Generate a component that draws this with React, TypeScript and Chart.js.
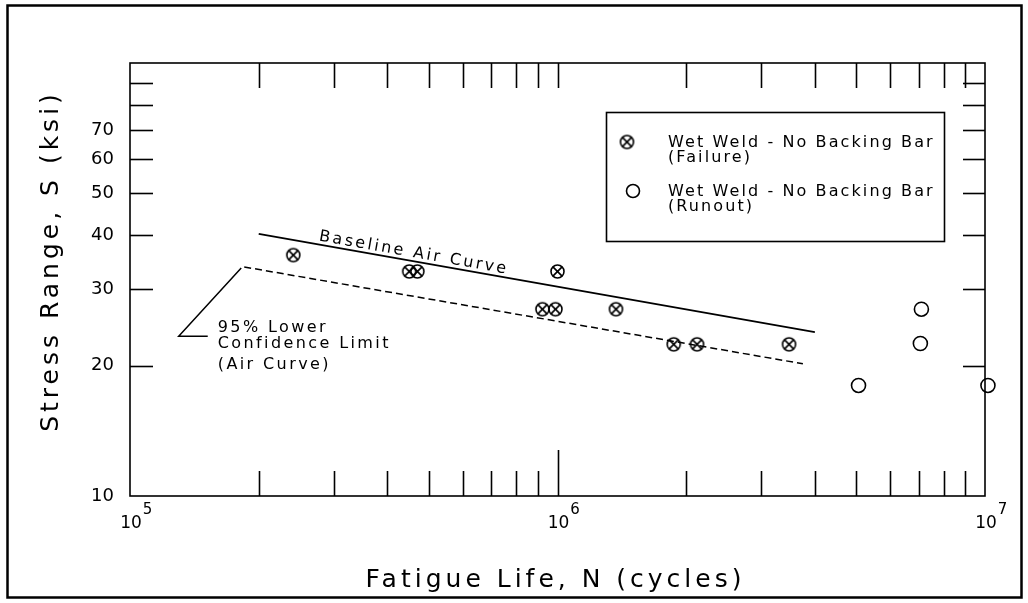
import React, { useEffect, useRef } from 'react';
import { Chart, registerables } from 'chart.js';

Chart.register(...registerables);

// ---- data ----
const failureN = [2.41e5, 4.5e5, 4.7e5, 1.0e6, 9.22e5, 9.89e5, 1.37e6, 1.87e6, 2.12e6, 3.48e6];
const failureS = [36, 33, 33, 33, 27, 27, 27, 22.4, 22.4, 22.4];
const runoutN = [5.06e6, 7.1e6, 7.06e6, 1.016e7];
const runoutS = [18, 27, 22.5, 18];
const baselineN = [2.0e5, 4.0e6];
const baselineS = [40.3, 23.9];
const lowerN = [1.85e5, 3.75e6];
const lowerS = [33.8, 20.2];

// ---- axes ----
const xTickValues = [
  1e5, 2e5, 3e5, 4e5, 5e5, 6e5, 7e5, 8e5, 9e5,
  1e6, 2e6, 3e6, 4e6, 5e6, 6e6, 7e6, 8e6, 9e6, 1e7,
];
const xLabelValues = [1e5, 1e6, 1e7];
const xLabelExponents = ['5', '6', '7'];
const yTickValues = [10, 20, 30, 40, 50, 60, 70, 80, 90, 100];
const yTickLabels = [10, 20, 30, 40, 50, 60, 70];

const xTitle = 'Fatigue Life, N (cycles)';
const yTitle = 'Stress Range, S (ksi)';
const failureLabel = ['Wet Weld - No Backing Bar', '(Failure)'];
const runoutLabel = ['Wet Weld - No Backing Bar', '(Runout)'];
const baselineLabel = 'Baseline Air Curve';
const lowerLabel = ['95% Lower', 'Confidence Limit', '(Air Curve)'];
const lowerLeaderElbow = { x: 1.3e5, y: 23.4 };
const lowerLeaderEnd = { x: 1.52e5, y: 23.4 };
const baselineLabelAt = 2.75e5;

const FONT = '"DejaVu Sans", "Liberation Sans", sans-serif';
const INK = '#000';

function makeCrossCircle(size: number, r: number, lw: number): HTMLCanvasElement {
  const c = document.createElement('canvas');
  c.width = size;
  c.height = size;
  const g = c.getContext('2d')!;
  const m = size / 2;
  g.strokeStyle = INK;
  g.lineWidth = lw;
  g.beginPath();
  g.arc(m, m, r, 0, Math.PI * 2);
  g.stroke();
  const d = r * Math.SQRT1_2;
  g.beginPath();
  g.moveTo(m - d, m - d);
  g.lineTo(m + d, m + d);
  g.moveTo(m + d, m - d);
  g.lineTo(m - d, m + d);
  g.stroke();
  return c;
}

function spacedText(
  ctx: CanvasRenderingContext2D,
  s: string,
  x: number,
  y: number,
  size: number,
  spacing: number,
  align: 'left' | 'center' = 'left'
) {
  ctx.save();
  ctx.font = `${size}px ${FONT}`;
  (ctx as any).letterSpacing = `${spacing}px`;
  ctx.fillStyle = INK;
  ctx.textBaseline = 'alphabetic';
  ctx.textAlign = 'left';
  let sx = x;
  if (align === 'center') {
    const w = ctx.measureText(s).width - spacing;
    sx = x - w / 2;
  }
  ctx.fillText(s, sx, y);
  ctx.restore();
}

function seg(ctx: CanvasRenderingContext2D, x1: number, y1: number, x2: number, y2: number) {
  ctx.beginPath();
  ctx.moveTo(x1, y1);
  ctx.lineTo(x2, y2);
  ctx.stroke();
}

export default function App() {
  const ref = useRef<HTMLCanvasElement | null>(null);

  useEffect(() => {
    document.body.style.margin = '0';
    const canvas = ref.current;
    if (!canvas) return;
    const crossImg = makeCrossCircle(17, 6.5, 1.6);

    const decorPlugin = {
      id: 'decor',
      beforeDraw(chart: any) {
        const ctx: CanvasRenderingContext2D = chart.ctx;
        ctx.save();
        ctx.fillStyle = '#fff';
        ctx.fillRect(0, 0, chart.width, chart.height);
        ctx.strokeStyle = INK;
        ctx.lineWidth = 2.5;
        ctx.strokeRect(7.5, 5.5, 1014, 592);
        ctx.restore();
      },
      afterDatasetsDraw(chart: any) {
        const ctx: CanvasRenderingContext2D = chart.ctx;
        const xs = chart.scales.x;
        const ys = chart.scales.y;
        const { left, right, top, bottom } = chart.chartArea;
        ctx.save();
        ctx.strokeStyle = INK;
        ctx.lineWidth = 1.6;
        ctx.strokeRect(left, top, right - left, bottom - top);

        // inward ticks, x (bottom and top)
        xs.ticks.forEach((t: any) => {
          const v = t.value;
          if (v <= xs.min || v >= xs.max) return;
          const px = Math.round(xs.getPixelForValue(v)) + 0.5;
          const lg = Math.log10(v);
          const major = Math.abs(lg - Math.round(lg)) < 1e-9;
          seg(ctx, px, bottom, px, bottom - (major ? 46 : 25));
          seg(ctx, px, top, px, top + 25);
        });
        // inward ticks, y (left and right)
        ys.ticks.forEach((t: any) => {
          const v = t.value;
          if (v <= ys.min || v >= ys.max) return;
          const py = Math.round(ys.getPixelForValue(v)) + 0.5;
          seg(ctx, left, py, left + 23, py);
          seg(ctx, right, py, right - 22, py);
        });

        // x labels 10^n
        xLabelValues.forEach((v, i) => {
          const px = xs.getPixelForValue(v);
          ctx.save();
          ctx.font = `17px ${FONT}`;
          ctx.fillStyle = INK;
          ctx.textAlign = 'center';
          ctx.fillText('10', px + 1, bottom + 32);
          const w = ctx.measureText('10').width;
          ctx.font = `15px ${FONT}`;
          ctx.textAlign = 'left';
          ctx.fillText(xLabelExponents[i], px + 1 + w / 2 + 1, bottom + 18);
          ctx.restore();
        });

        // axis titles
        spacedText(ctx, xTitle, (left + right) / 2 - 4, 587, 25, 4, 'center');
        ctx.save();
        ctx.translate(58, 263);
        ctx.rotate(-Math.PI / 2);
        spacedText(ctx, yTitle, 0, 0, 25, 4, 'center');
        ctx.restore();

        // baseline label along the line
        const bx1 = xs.getPixelForValue(baselineN[0]);
        const by1 = ys.getPixelForValue(baselineS[0]);
        const bx2 = xs.getPixelForValue(baselineN[1]);
        const by2 = ys.getPixelForValue(baselineS[1]);
        const ang = Math.atan2(by2 - by1, bx2 - bx1);
        const lx = xs.getPixelForValue(baselineLabelAt);
        const ly = by1 + ((lx - bx1) * (by2 - by1)) / (bx2 - bx1);
        ctx.save();
        ctx.translate(lx + 4 * Math.sin(ang), ly - 4 * Math.cos(ang));
        ctx.rotate(ang);
        spacedText(ctx, baselineLabel, 0, 0, 16, 2.5);
        ctx.restore();

        // leader for lower confidence limit
        const sx = xs.getPixelForValue(lowerN[0]);
        const sy = ys.getPixelForValue(lowerS[0]);
        const ex = xs.getPixelForValue(lowerLeaderElbow.x);
        const ey = ys.getPixelForValue(lowerLeaderElbow.y);
        const fx = xs.getPixelForValue(lowerLeaderEnd.x);
        ctx.lineWidth = 1.5;
        ctx.beginPath();
        ctx.moveTo(sx - 3, sy + 1);
        ctx.lineTo(ex, ey);
        ctx.lineTo(fx, ey);
        ctx.stroke();
        spacedText(ctx, lowerLabel[0], fx + 10, ey - 4, 16, 2.4);
        spacedText(ctx, lowerLabel[1], fx + 10, ey + 12, 16, 2.4);
        spacedText(ctx, lowerLabel[2], fx + 10, ey + 33, 16, 2.4);

        // legend box
        ctx.lineWidth = 1.6;
        ctx.strokeRect(606.5, 112.5, 338, 129);
        ctx.drawImage(crossImg, 627 - 8.5, 142 - 8.5);
        ctx.lineWidth = 1.6;
        ctx.beginPath();
        ctx.arc(633, 191, 6.5, 0, Math.PI * 2);
        ctx.stroke();
        spacedText(ctx, failureLabel[0], 668, 147, 16, 2.1);
        spacedText(ctx, failureLabel[1], 668, 162, 16, 2.1);
        spacedText(ctx, runoutLabel[0], 668, 196, 16, 2.1);
        spacedText(ctx, runoutLabel[1], 668, 211, 16, 2.1);
        ctx.restore();
      },
    };

    const chart = new Chart(canvas, {
      type: 'scatter',
      data: {
        datasets: [
          {
            label: failureLabel.join(' '),
            data: failureN.map((n, i) => ({ x: n, y: failureS[i] })),
            pointStyle: crossImg as any,
            pointRadius: 7,
            borderColor: INK,
            backgroundColor: 'rgba(0,0,0,0)',
            clip: false as any,
          },
          {
            label: runoutLabel.join(' '),
            data: runoutN.map((n, i) => ({ x: n, y: runoutS[i] })),
            pointStyle: 'circle',
            pointRadius: 7,
            borderWidth: 1.6,
            borderColor: INK,
            backgroundColor: 'rgba(0,0,0,0)',
            clip: false as any,
          },
          {
            label: baselineLabel,
            data: baselineN.map((n, i) => ({ x: n, y: baselineS[i] })),
            showLine: true,
            borderColor: INK,
            borderWidth: 1.8,
            pointRadius: 0,
            fill: false,
          },
          {
            label: lowerLabel.join(' '),
            data: lowerN.map((n, i) => ({ x: n, y: lowerS[i] })),
            showLine: true,
            borderColor: INK,
            borderWidth: 1.5,
            borderDash: [7, 4],
            pointRadius: 0,
            fill: false,
          },
        ],
      },
      options: {
        animation: false,
        responsive: false,
        devicePixelRatio: 1,
        layout: { padding: { left: 0, right: 43, top: 63, bottom: 0 } },
        plugins: { legend: { display: false }, tooltip: { enabled: false } },
        scales: {
          x: {
            type: 'logarithmic',
            min: 1e5,
            max: 1e7,
            grid: { display: false, drawTicks: false },
            border: { display: false },
            ticks: { display: false },
            afterBuildTicks: (s: any) => {
              s.ticks = xTickValues.map((v) => ({ value: v }));
            },
            afterFit: (s: any) => {
              s.height = 107;
            },
          },
          y: {
            type: 'logarithmic',
            min: 10,
            max: 100,
            grid: { display: false, drawTicks: false },
            border: { display: false },
            afterBuildTicks: (s: any) => {
              s.ticks = yTickValues.map((v) => ({ value: v }));
            },
            ticks: {
              autoSkip: false,
              padding: 16,
              color: INK,
              font: { family: FONT, size: 18 },
              callback: (v: any) => {
                const n = Math.round(Number(v));
                return yTickLabels.includes(n) ? String(n) : '';
              },
            },
            afterFit: (s: any) => {
              s.width = 130;
            },
          },
        },
      },
      plugins: [decorPlugin],
    } as any);

    return () => chart.destroy();
  }, []);

  return (
    <div style={{ width: 1028, height: 603 }}>
      <canvas ref={ref} width={1028} height={603} style={{ display: 'block' }} />
    </div>
  );
}
